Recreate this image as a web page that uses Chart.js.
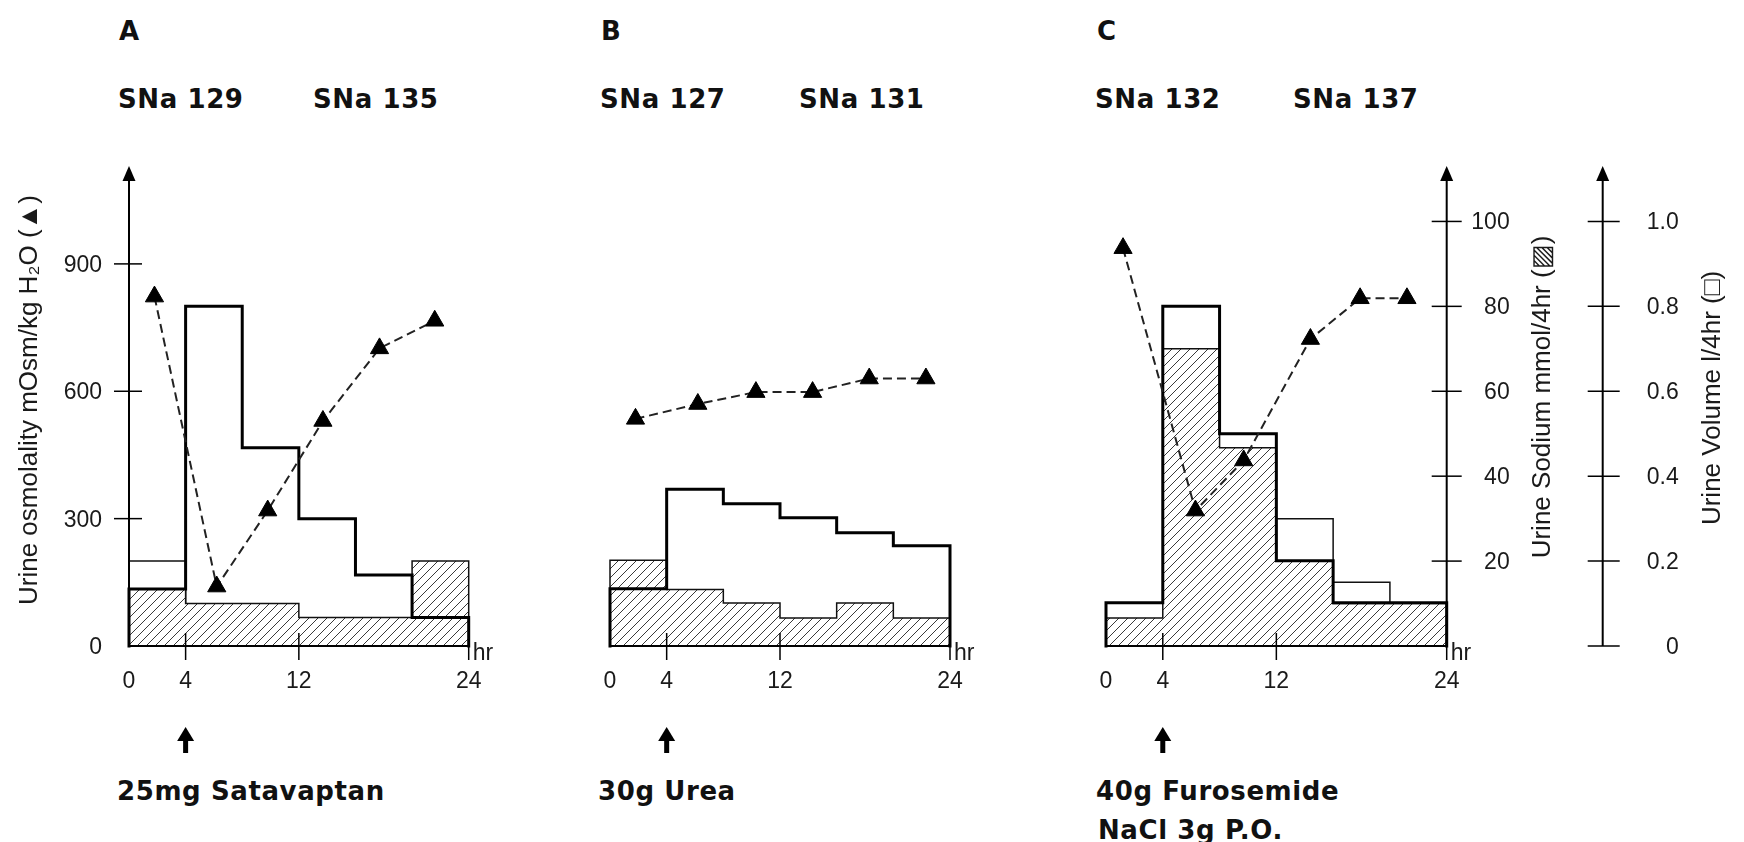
<!DOCTYPE html>
<html><head><meta charset="utf-8">
<script src="https://cdn.jsdelivr.net/npm/chart.js@4.4.1/dist/chart.umd.min.js"></script>
<style>
html,body{margin:0;padding:0;background:#fff;}
body{width:1744px;height:842px;position:relative;overflow:hidden;}
canvas.panel{position:absolute;left:0;top:0;}
.lbl{position:absolute;font-family:"DejaVu Sans",sans-serif;font-weight:bold;font-size:26px;line-height:26px;color:#111;white-space:nowrap;letter-spacing:0.6px;}
</style></head><body>
<div class="lbl" style="left:119px;top:18px">A</div>
<div class="lbl" style="left:601px;top:18px">B</div>
<div class="lbl" style="left:1097px;top:18px">C</div>
<div class="lbl" style="left:118px;top:86px">SNa 129</div>
<div class="lbl" style="left:313px;top:86px">SNa 135</div>
<div class="lbl" style="left:600px;top:86px">SNa 127</div>
<div class="lbl" style="left:799px;top:86px">SNa 131</div>
<div class="lbl" style="left:1095px;top:86px">SNa 132</div>
<div class="lbl" style="left:1293px;top:86px">SNa 137</div>
<div class="lbl" style="left:117px;top:778px">25mg Satavaptan</div>
<div class="lbl" style="left:598px;top:778px">30g Urea</div>
<div class="lbl" style="left:1096px;top:778px">40g Furosemide</div>
<div class="lbl" style="left:1098px;top:817px">NaCl 3g P.O.</div>
<canvas class="panel" id="cA" width="1744" height="842"></canvas>
<canvas class="panel" id="cB" width="1744" height="842"></canvas>
<canvas class="panel" id="cC" width="1744" height="842"></canvas>
<script>
// ---- data ----
const hours = [0, 4, 8, 12, 16, 20, 24];
const xTickValues = [0, 4, 12, 24];
const xTickLabels = ['0', '4', '12', '24'];
const osmTicks = [0, 300, 600, 900];
const sodiumTicks = [20, 40, 60, 80, 100];
const volumeTicks = [0, 0.2, 0.4, 0.6, 0.8, 1.0];
const volumeTickLabels = ['0', '0.2', '0.4', '0.6', '0.8', '1.0'];

// Panel A: 25mg Satavaptan
const volumeA = [0.134, 0.80, 0.467, 0.30, 0.167, 0.067];
const sodiumA = [13.4, 10, 10, 6.7, 6.7, 20];
const openA = [0.20, 0, 0, 0, 0, 0];
const osmHoursA = [1.8, 6.2, 9.8, 13.7, 17.7, 21.6];
const osmA = [823, 140, 319, 530, 701, 766];

// Panel B: 30g Urea
const volumeB = [0.135, 0.369, 0.335, 0.302, 0.267, 0.236];
const sodiumB = [20.2, 13.3, 10.1, 6.6, 10.1, 6.6];
const openB = [0, 0, 0, 0, 0, 0];
const osmHoursB = [1.8, 6.2, 10.3, 14.3, 18.3, 22.3];
const osmB = [535, 570, 598, 598, 630, 630];

// Panel C: 40g Furosemide + NaCl
const volumeC = [0.102, 0.80, 0.50, 0.201, 0.102, 0.102];
const sodiumC = [6.6, 70, 46.7, 20, 10, 10];
const openC = [0, 0, 0, 0.30, 0.15, 0];
const osmHoursC = [1.2, 6.3, 9.7, 14.4, 17.9, 21.2];
const osmC = [937, 319, 437, 723, 819, 819];

const osmTitle = 'Urine osmolality mOsm/kg H\u2082O (\u25B2)';
const sodiumTitle = 'Urine Sodium mmol/4hr (\u25A8)';
const volumeTitle = 'Urine Volume l/4hr (\u25A1)';

// ---- helpers ----
function stepPoints(vals) {
  const pts = [{x: hours[0], y: 0}];
  vals.forEach((v, i) => pts.push({x: hours[i], y: v}));
  pts.push({x: hours[6], y: vals[5]});
  pts.push({x: hours[6], y: 0});
  return pts;
}
function hatch() {
  const c = document.createElement('canvas');
  c.width = 9; c.height = 9;
  const g = c.getContext('2d');
  g.fillStyle = '#fff'; g.fillRect(0, 0, 9, 9);
  g.strokeStyle = '#3a3a3a'; g.lineWidth = 1;
  g.beginPath();
  g.moveTo(-1, 10); g.lineTo(10, -1);
  g.moveTo(-1, 1); g.lineTo(1, -1);
  g.moveTo(8, 10); g.lineTo(10, 8);
  g.stroke();
  return g.createPattern(c, 'repeat');
}
const TICK_FONT = '23px "Liberation Sans", Arial, sans-serif';
const TITLE_FONT = '26px "Liberation Sans", Arial, sans-serif';

function seg(ctx, x1, y1, x2, y2) { ctx.beginPath(); ctx.moveTo(x1, y1); ctx.lineTo(x2, y2); ctx.stroke(); }
function arrowHead(ctx, x, yTip) {
  ctx.beginPath(); ctx.moveTo(x, yTip); ctx.lineTo(x - 6.5, yTip + 15); ctx.lineTo(x + 6.5, yTip + 15); ctx.closePath(); ctx.fill();
}
function vtext(ctx, txt, x, y) {
  ctx.save(); ctx.translate(x, y); ctx.rotate(-Math.PI / 2);
  ctx.textAlign = 'center'; ctx.textBaseline = 'middle'; ctx.fillText(txt, 0, 0); ctx.restore();
}

function axesPlugin(cfg) {
  return {
    id: 'axes' + cfg.id,
    afterDatasetsDraw(chart) {
      const ctx = chart.ctx, xs = chart.scales.x, ys = chart.scales.y;
      const X = v => xs.getPixelForValue(v), Y = v => ys.getPixelForValue(v);
      const y0 = Y(0), top = chart.chartArea.top + 4;
      ctx.save();
      ctx.strokeStyle = '#000'; ctx.fillStyle = '#000';
      // x axis
      ctx.lineWidth = 2; seg(ctx, X(0), y0, X(24), y0);
      ctx.lineWidth = 1.5;
      [4, 12, 24].forEach(v => seg(ctx, X(v), y0 - 13, X(v), y0 + 14));
      ctx.fillStyle = '#1a1a1a'; ctx.font = TICK_FONT;
      ctx.textAlign = 'center'; ctx.textBaseline = 'alphabetic';
      xTickValues.forEach((v, i) => ctx.fillText(xTickLabels[i], X(v), y0 + 42));
      ctx.textAlign = 'left'; ctx.fillText('hr', X(24) + 4, y0 + 14);
      // dose arrow at 4 h
      ctx.fillStyle = '#000';
      ctx.fillRect(X(4) - 2.5, y0 + 92, 5, 15);
      ctx.beginPath(); ctx.moveTo(X(4), y0 + 81); ctx.lineTo(X(4) - 8.5, y0 + 95); ctx.lineTo(X(4) + 8.5, y0 + 95); ctx.closePath(); ctx.fill();
      if (cfg.left) {
        const ax = X(0);
        ctx.lineWidth = 2; seg(ctx, ax, y0, ax, top + 10);
        arrowHead(ctx, ax, top);
        ctx.lineWidth = 1.5;
        osmTicks.forEach(v => { if (v > 0) seg(ctx, ax - 15, Y(v), ax + 13, Y(v)); });
        ctx.fillStyle = '#1a1a1a'; ctx.font = TICK_FONT; ctx.textAlign = 'right';
        osmTicks.forEach(v => ctx.fillText(String(v), ax - 27, Y(v) + 8));
        ctx.font = TITLE_FONT; vtext(ctx, osmTitle, 30, 400);
      }
      if (cfg.right) {
        const yNa = chart.scales.yNa, yV = chart.scales.yV;
        const sx = X(24), vx = X(24) + 156;
        ctx.fillStyle = '#000';
        ctx.lineWidth = 2; seg(ctx, sx, y0, sx, top + 10); arrowHead(ctx, sx, top);
        seg(ctx, vx, y0, vx, top + 10); arrowHead(ctx, vx, top);
        ctx.lineWidth = 1.5;
        sodiumTicks.forEach(v => seg(ctx, sx - 15, yNa.getPixelForValue(v), sx + 15, yNa.getPixelForValue(v)));
        volumeTicks.forEach(v => seg(ctx, vx - 15, yV.getPixelForValue(v), vx + 17, yV.getPixelForValue(v)));
        ctx.fillStyle = '#1a1a1a'; ctx.font = TICK_FONT; ctx.textAlign = 'right';
        sodiumTicks.forEach(v => ctx.fillText(String(v), sx + 63, yNa.getPixelForValue(v) + 8));
        volumeTicks.forEach((v, i) => ctx.fillText(volumeTickLabels[i], vx + 76, yV.getPixelForValue(v) + 8));
        ctx.font = TITLE_FONT;
        vtext(ctx, sodiumTitle, sx + 96, 397);
        vtext(ctx, volumeTitle, sx + 266, 398);
      }
      ctx.restore();
    }
  };
}

const HATCH = hatch();
const BASE_Y = 646, TOP_Y = 162;

function makeChart(cfg) {
  const datasets = [
    {label: 'osm', data: cfg.osmH.map((h, i) => ({x: h, y: cfg.osm[i]})), yAxisID: 'y',
      borderColor: '#222', borderWidth: 2, borderDash: [9, 5], fill: false, tension: 0,
      pointStyle: 'triangle', pointRadius: 10.5, pointBackgroundColor: '#000', pointBorderColor: '#000', pointBorderWidth: 1,
      order: 0, clip: false},
    {label: 'volume', data: stepPoints(cfg.vol), yAxisID: 'yV', stepped: 'before',
      borderColor: '#000', borderWidth: 3, fill: false, pointRadius: 0, order: 1, clip: false,
      borderJoinStyle: 'miter', borderCapStyle: 'square'},
    {label: 'sodium', data: stepPoints(cfg.na), yAxisID: 'yNa', stepped: 'before',
      borderColor: '#111', borderWidth: 1.5, backgroundColor: HATCH, fill: 'origin', pointRadius: 0, order: 2, clip: false},
    {label: 'open', data: stepPoints(cfg.open), yAxisID: 'yV', stepped: 'before',
      borderColor: '#111', borderWidth: 1.5, backgroundColor: '#fff', fill: 'origin', pointRadius: 0, order: 3, clip: false}
  ];
  return new Chart(document.getElementById(cfg.id), {
    type: 'line',
    data: {datasets},
    options: {
      responsive: false, animation: false, events: [], devicePixelRatio: 1,
      layout: {padding: {left: cfg.x0, right: 1744 - cfg.x24, top: TOP_Y, bottom: 842 - BASE_Y}},
      scales: {
        x: {type: 'linear', min: 0, max: 24, display: false},
        y: {min: 0, max: 1140, display: false},
        yNa: {min: 0, max: 114, display: false},
        yV: {min: 0, max: 1.14, display: false}
      },
      plugins: {legend: {display: false}, tooltip: {enabled: false}}
    },
    plugins: [axesPlugin(cfg)]
  });
}

makeChart({id: 'cA', x0: 129, x24: 468.7, vol: volumeA, na: sodiumA, open: openA, osmH: osmHoursA, osm: osmA, left: true, right: false});
makeChart({id: 'cB', x0: 610, x24: 950, vol: volumeB, na: sodiumB, open: openB, osmH: osmHoursB, osm: osmB, left: false, right: false});
makeChart({id: 'cC', x0: 1106, x24: 1446.7, vol: volumeC, na: sodiumC, open: openC, osmH: osmHoursC, osm: osmC, left: false, right: true});
</script>
</body></html>
